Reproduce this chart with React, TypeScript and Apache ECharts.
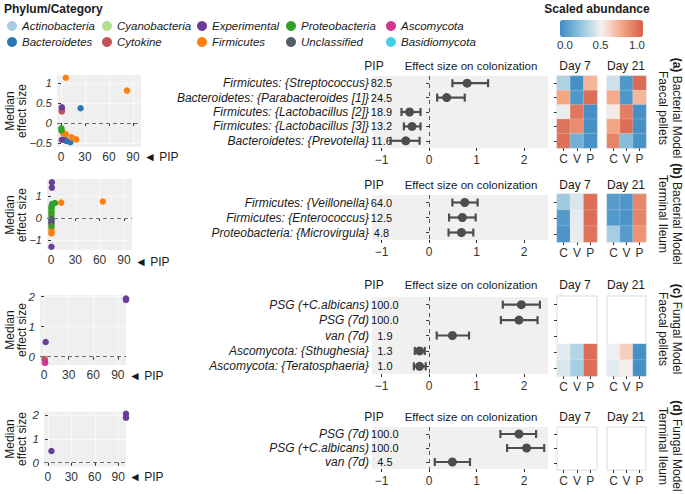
import React, { useEffect, useRef } from 'react';
import * as echarts from 'echarts';

const FONT = '"Liberation Sans", Arial, Helvetica, sans-serif';
const TXT = '#1a1a1a';
const AX = '#333333';

// ---------- legend categories ----------
const categoryNames = ['Actinobacteria', 'Bacteroidetes', 'Cyanobacteria', 'Cytokine', 'Experimental', 'Firmicutes', 'Proteobacteria', 'Unclassified', 'Ascomycota', 'Basidiomycota'];
const categoryColors = ['#a6cee3', '#2a78b3', '#b2df8a', '#c5505a', '#6a3d9a', '#ff7f0e', '#33a02c', '#545b66', '#d1358c', '#40cfe6'];
const legendColumns = [
  ['Actinobacteria', 'Bacteroidetes'],
  ['Cyanobacteria', 'Cytokine'],
  ['Experimental', 'Firmicutes'],
  ['Proteobacteria', 'Unclassified'],
  ['Ascomycota', 'Basidiomycota'],
];

// ---------- left scatter panels: [category, PIP, median effect size] ----------
const scatterBactFaecal: [string, number, number][] = [
  ['Firmicutes', 6, 1.13], ['Firmicutes', 82.5, 0.81], ['Bacteroidetes', 24.5, 0.37],
  ['Experimental', 1, 0.39], ['Cytokine', 1, 0.33], ['Cytokine', 1, 0.29],
  ['Proteobacteria', 0.5, -0.13], ['Proteobacteria', 0.5, -0.18], ['Firmicutes', 1.5, -0.22],
  ['Firmicutes', 3, -0.26], ['Firmicutes', 6, -0.28], ['Firmicutes', 13.2, -0.36],
  ['Firmicutes', 18.9, -0.41], ['Experimental', 1, -0.42], ['Bacteroidetes', 5, -0.41],
  ['Bacteroidetes', 6.5, -0.45], ['Bacteroidetes', 11.6, -0.48],
];
const scatterBactIleum: [string, number, number][] = [
  ['Experimental', 1, 1.62], ['Experimental', 1, 1.38], ['Firmicutes', 64, 0.75],
  ['Firmicutes', 12.5, 0.70], ['Proteobacteria', 4.8, 0.68], ['Proteobacteria', 1.5, 0.64],
  ['Proteobacteria', 1, 0.58], ['Proteobacteria', 0.5, 0.5], ['Proteobacteria', 0.5, 0.42],
  ['Cyanobacteria', 0.5, 0.34], ['Proteobacteria', 0.5, 0.27], ['Firmicutes', 0.5, 0.2],
  ['Proteobacteria', 0.5, 0.12], ['Actinobacteria', 0.5, 0.04], ['Unclassified', 0.5, -0.05],
  ['Bacteroidetes', 0.5, -0.12], ['Experimental', 0.5, -0.2], ['Cytokine', 0.5, -0.28],
  ['Proteobacteria', 0.5, -0.37], ['Firmicutes', 0.5, -0.47], ['Firmicutes', 0.5, -0.6],
  ['Firmicutes', 0.5, -0.7], ['Experimental', 0.5, -1.3],
];
const scatterFungFaecal: [string, number, number][] = [
  ['Experimental', 100, 1.94], ['Experimental', 100, 1.89], ['Experimental', 1.9, 0.49],
  ['Cytokine', 0.5, -0.08], ['Cytokine', 1, -0.12], ['Ascomycota', 1.3, -0.2], ['Ascomycota', 1.0, -0.2],
];
const scatterFungIleum: [string, number, number][] = [
  ['Experimental', 100, 1.89], ['Experimental', 100, 2.05], ['Experimental', 4.5, 0.49],
];
const pipTicks = [0, 30, 60, 90];
const scatterYTicksA = [-0.5, 0, 0.5, 1];
const scatterYTicksB = [-1, 0, 1];
const scatterYTicksC = [0, 1, 2];
const scatterYTicksD = [0, 1, 2];

// ---------- forest + heatmap panels ----------
const effectTicks = [-1, 0, 1, 2];
const heatColumns = ['C', 'V', 'P'];
const abundanceTickLabels = ['0.0', '0.5', '1.0'];

const bfLabels = ['Firmicutes: {Streptococcus}', 'Bacteroidetes: {Parabacteroides [1]}', 'Firmicutes: {Lactobacillus [2]}', 'Firmicutes: {Lactobacillus [3]}', 'Bacteroidetes: {Prevotella}'];
const bfPIP = [82.5, 24.5, 18.9, 13.2, 11.6];
const bfEffect = [0.80, 0.37, -0.41, -0.36, -0.49];
const bfLow = [0.49, 0.17, -0.58, -0.53, -0.81];
const bfHigh = [1.24, 0.75, -0.18, -0.18, -0.20];
const bfDay7 = [[0.32, 0.02, 0.70], [0.75, 0.05, 0.95], [0.47, 0.92, 0.02], [0.93, 0.84, 0.02], [0.94, 0.16, 0.03]];
const bfDay21 = [[0.40, 0.05, 0.96], [0.73, 0.05, 0.70], [0.53, 0.90, 0.02], [0.75, 0.95, 0.02], [0.87, 0.21, 0.03]];

const biLabels = ['Firmicutes: {Veillonella}', 'Firmicutes: {Enterococcus}', 'Proteobacteria: {Microvirgula}'];
const biPIP = [64.0, 12.5, 4.8];
const biEffect = [0.75, 0.70, 0.68];
const biLow = [0.49, 0.42, 0.41];
const biHigh = [1.02, 0.98, 0.93];
const biDay7 = [[0.28, 0.43, 0.95], [0.06, 0.46, 0.95], [0.04, 0.47, 0.93]];
const biDay21 = [[0.07, 0.05, 0.86], [0.06, 0.04, 0.87], [0.30, 0.07, 0.81]];

const ffLabels = ['PSG (+C.albicans)', 'PSG (7d)', 'van (7d)', 'Ascomycota: {Sthughesia}', 'Ascomycota: {Teratosphaeria}'];
const ffPIP = [100.0, 100.0, 1.9, 1.3, 1.0];
const ffEffect = [1.94, 1.89, 0.49, -0.20, -0.20];
const ffLow = [1.55, 1.51, 0.16, -0.30, -0.32];
const ffHigh = [2.33, 2.28, 0.84, -0.09, -0.07];
const ffDay7 = [null, null, null, [0.45, 0.33, 0.95], [0.43, 0.30, 0.95]];
const ffDay21 = [null, null, null, [0.48, 0.62, 0.02], [0.45, 0.52, 0.02]];

const fiLabels = ['PSG (7d)', 'PSG (+C.albicans)', 'van (7d)'];
const fiPIP = [100.0, 100.0, 4.5];
const fiEffect = [1.89, 2.05, 0.49];
const fiLow = [1.50, 1.64, 0.12];
const fiHigh = [2.25, 2.42, 0.86];
const fiDay7 = [null, null, null];
const fiDay21 = [null, null, null];

const panelTitles = [
  ['(a)', 'Bacterial Model', 'Faecal pellets'],
  ['(b)', 'Bacterial Model', 'Terminal Ileum'],
  ['(c)', 'Fungal Model', 'Faecal pellets'],
  ['(d)', 'Fungal Model', 'Terminal Ileum'],
];

// ---------- layout (positions only) ----------
const scatterLayout = [
  { left: 57, top: 75, width: 84, height: 72, yMin: -0.6, yMax: 1.2, titleY: 111, pipY: 157 },
  { left: 47, top: 179, width: 85, height: 71, yMin: -1.45, yMax: 1.77, titleY: 215, pipY: 262 },
  { left: 40, top: 295, width: 86, height: 70, yMin: -0.277, yMax: 2.057, titleY: 330, pipY: 376 },
  { left: 44, top: 411.5, width: 82, height: 55, yMin: -0.16, yMax: 2.147, titleY: 439, pipY: 477 },
];
const forestLayout = [
  { top: 76, height: 72, header: 66, pipX: -1 },
  { top: 195, height: 45, header: 185, pipX: -1 },
  { top: 297, height: 77, header: 285, pipX: -0.93 },
  { top: 427, height: 42, header: 417, pipX: -0.93 },
];
const heatLayout = [
  { top: 76, height: 72 },
  { top: 194, height: 48 },
  { top: 296, height: 80 },
  { top: 427, height: 43 },
];
const titleCenterY = [108, 214, 329, 446];
const FOREST_LEFT = 372;
const FOREST_WIDTH = 176;
const HEAT_LEFT = [557, 607];
const HEAT_WIDTH = [40, 39];

const minus = (v: any) => String(v).replace('-', '\u2212');

function buildOption() {
  const grid: any[] = [];
  const xAxis: any[] = [];
  const yAxis: any[] = [];
  const series: any[] = [];
  const graphic: any[] = [];
  const heatIdx: number[] = [];

  const scatterData = [scatterBactFaecal, scatterBactIleum, scatterFungFaecal, scatterFungIleum];
  const scatterYTicks = [scatterYTicksA, scatterYTicksB, scatterYTicksC, scatterYTicksD];

  // ----- scatter panels -----
  scatterData.forEach((pts, i) => {
    const L = scatterLayout[i];
    const gi = grid.length;
    grid.push({ left: L.left, top: L.top, width: L.width, height: L.height, show: true, backgroundColor: '#efefef', borderWidth: 0 });
    xAxis.push({
      type: 'value', gridIndex: gi, min: -5, max: 100,
      axisLine: { show: false },
      axisTick: { show: true, length: 3, lineStyle: { color: AX }, customValues: pipTicks },
      axisLabel: { customValues: pipTicks, margin: 4, fontSize: 12, color: AX, fontFamily: FONT },
      splitLine: { show: true, lineStyle: { color: '#fbfbfb', width: 0.8 } },
    });
    yAxis.push({
      type: 'value', gridIndex: gi, min: L.yMin, max: L.yMax,
      axisLine: { show: false },
      axisTick: { show: true, length: 3, lineStyle: { color: AX }, customValues: scatterYTicks[i] },
      axisLabel: { customValues: scatterYTicks[i], margin: 5, fontSize: 11.5, fontStyle: 'italic', color: AX, fontFamily: FONT, formatter: minus },
      splitLine: { show: true, lineStyle: { color: '#fbfbfb', width: 0.8 } },
    });
    series.push({
      type: 'line', xAxisIndex: gi, yAxisIndex: gi, data: [], silent: true, z: 1,
      markLine: { silent: true, symbol: ['none', 'none'], label: { show: false }, lineStyle: { type: [4, 3], color: '#6e6e6e', width: 1.2 }, data: [{ yAxis: 0 }] },
    });
    categoryNames.forEach((cat, ci) => {
      series.push({
        type: 'scatter', name: cat, xAxisIndex: gi, yAxisIndex: gi, z: 3,
        data: pts.filter(p => p[0] === cat).map(p => [p[1], p[2]]),
        symbolSize: 6.5, itemStyle: { color: categoryColors[ci], opacity: 1 },
      });
    });
    graphic.push({
      type: 'text', x: 15.5, y: L.titleY, rotation: Math.PI / 2,
      style: { text: 'Median\neffect size', fontSize: 12, lineHeight: 12, fontFamily: FONT, fill: TXT, align: 'center', verticalAlign: 'middle' },
    });
    graphic.push({
      type: 'text', x: L.left + L.width + 3, y: L.pipY,
      style: { text: '\u25C4 PIP', fontSize: 12, fontFamily: FONT, fill: TXT, align: 'left', verticalAlign: 'middle' },
    });
  });

  // ----- forest + heatmaps -----
  const panels = [
    { labels: bfLabels, pip: bfPIP, eff: bfEffect, lo: bfLow, hi: bfHigh, d7: bfDay7, d21: bfDay21 },
    { labels: biLabels, pip: biPIP, eff: biEffect, lo: biLow, hi: biHigh, d7: biDay7, d21: biDay21 },
    { labels: ffLabels, pip: ffPIP, eff: ffEffect, lo: ffLow, hi: ffHigh, d7: ffDay7, d21: ffDay21 },
    { labels: fiLabels, pip: fiPIP, eff: fiEffect, lo: fiLow, hi: fiHigh, d7: fiDay7, d21: fiDay21 },
  ];

  panels.forEach((P, i) => {
    const F = forestLayout[i];
    const gi = grid.length;
    grid.push({ left: FOREST_LEFT, top: F.top, width: FOREST_WIDTH, height: F.height, show: true, backgroundColor: '#f0f0f0', borderWidth: 0 });
    xAxis.push({
      type: 'value', gridIndex: gi, min: -1.2, max: 2.5,
      axisLine: { show: false },
      axisTick: { show: true, length: 3, lineStyle: { color: AX }, customValues: effectTicks },
      axisLabel: { customValues: effectTicks, margin: 6, fontSize: 12, color: AX, fontFamily: FONT, formatter: minus },
      splitLine: { show: false },
    });
    yAxis.push({
      type: 'category', gridIndex: gi, data: P.labels, inverse: true,
      axisLine: { show: false },
      axisTick: { show: true, length: 3, alignWithLabel: true, interval: 0, lineStyle: { color: AX } },
      axisLabel: { interval: 0, margin: 3, fontSize: 12, fontStyle: 'italic', color: TXT, fontFamily: FONT },
      splitLine: { show: false },
    });
    // PIP values printed inside the panel
    series.push({
      type: 'scatter', xAxisIndex: gi, yAxisIndex: gi, silent: true, symbolSize: 0.01,
      itemStyle: { color: '#111111', opacity: 1 },
      data: P.pip.map((v, r) => [F.pipX, r, v]),
      label: { show: true, position: 'inside', fontSize: 11, color: '#111111', opacity: 1, textBorderWidth: 0, fontFamily: FONT, formatter: (p: any) => p.value[2].toFixed(1) },
    });
    // error bars
    series.push({
      type: 'custom', xAxisIndex: gi, yAxisIndex: gi, silent: true, z: 3,
      data: P.lo.map((v, r) => [v, P.hi[r], r]),
      encode: { x: [0, 1], y: 2 },
      renderItem: (params: any, api: any) => {
        const a = api.coord([api.value(0), api.value(2)]);
        const b = api.coord([api.value(1), api.value(2)]);
        const h = 4;
        const style = { stroke: '#4d4d4d', lineWidth: 2.2 };
        return {
          type: 'group', children: [
            { type: 'line', shape: { x1: a[0], y1: a[1], x2: b[0], y2: b[1] }, style },
            { type: 'line', shape: { x1: a[0], y1: a[1] - h, x2: a[0], y2: a[1] + h }, style },
            { type: 'line', shape: { x1: b[0], y1: b[1] - h, x2: b[0], y2: b[1] + h }, style },
          ],
        };
      },
    });
    // median points + zero line
    series.push({
      type: 'scatter', xAxisIndex: gi, yAxisIndex: gi, silent: true, z: 4,
      data: P.eff.map((v, r) => [v, r]),
      symbolSize: 9, itemStyle: { color: '#4d4d4d', opacity: 1 },
      markLine: { silent: true, symbol: ['none', 'none'], label: { show: false }, lineStyle: { type: [4, 4], color: '#555555', width: 1 }, data: [{ xAxis: 0 }] },
    });

    // headers
    graphic.push({ type: 'text', x: 374, y: F.header, style: { text: 'PIP', fontSize: 12, fontFamily: FONT, fill: TXT, align: 'center', verticalAlign: 'middle' } });
    graphic.push({ type: 'text', x: 471, y: F.header, style: { text: 'Effect size on colonization', fontSize: 11.5, fontFamily: FONT, fill: TXT, align: 'center', verticalAlign: 'middle' } });
    graphic.push({ type: 'text', x: 575, y: F.header, style: { text: 'Day 7', fontSize: 12, fontFamily: FONT, fill: TXT, align: 'center', verticalAlign: 'middle' } });
    graphic.push({ type: 'text', x: 626, y: F.header, style: { text: 'Day 21', fontSize: 12, fontFamily: FONT, fill: TXT, align: 'center', verticalAlign: 'middle' } });

    // heatmaps
    const H = heatLayout[i];
    [P.d7, P.d21].forEach((mat, d) => {
      const hg = grid.length;
      grid.push({ left: HEAT_LEFT[d], top: H.top, width: HEAT_WIDTH[d], height: H.height, show: true, backgroundColor: '#ffffff', borderColor: '#dadada', borderWidth: 1 });
      xAxis.push({
        type: 'category', gridIndex: hg, data: heatColumns,
        axisLine: { show: false },
        axisTick: { show: true, length: 3, alignWithLabel: true, interval: 0, lineStyle: { color: AX } },
        axisLabel: { interval: 0, margin: 5, fontSize: 12, color: AX, fontFamily: FONT },
        splitLine: { show: false },
      });
      yAxis.push({
        type: 'category', gridIndex: hg, data: P.labels, inverse: true,
        axisLine: { show: false },
        axisTick: { show: d === 0, length: 3, alignWithLabel: true, interval: 0, lineStyle: { color: AX } },
        axisLabel: { show: false, interval: 0 },
        splitLine: { show: false },
      });
      const cells: number[][] = [];
      mat.forEach((row: number[] | null, r: number) => {
        if (row) row.forEach((v, c) => cells.push([c, r, v]));
      });
      if (cells.length) {
        heatIdx.push(series.length);
        series.push({
          type: 'heatmap', xAxisIndex: hg, yAxisIndex: hg, data: cells, silent: true,
          itemStyle: { borderColor: 'rgba(255,255,255,0.5)', borderWidth: 0.4 },
        });
      }
    });

    // side titles
    const T = panelTitles[i];
    graphic.push({
      type: 'text', x: 677, y: titleCenterY[i], rotation: -Math.PI / 2,
      style: { text: `{b|${T[0]}} ${T[1]}`, fontSize: 12, fontFamily: FONT, fill: TXT, align: 'center', verticalAlign: 'middle', rich: { b: { fontWeight: 'bold', fontSize: 12, fontFamily: FONT, fill: TXT } } },
    });
    graphic.push({
      type: 'text', x: 663, y: titleCenterY[i], rotation: -Math.PI / 2,
      style: { text: T[2], fontSize: 12, fontFamily: FONT, fill: TXT, align: 'center', verticalAlign: 'middle' },
    });
  });

  // legend title and colorbar texts
  graphic.push({ type: 'text', x: 4, y: 9, style: { text: 'Phylum/Category', fontSize: 12, fontWeight: 'bold', fontFamily: FONT, fill: TXT, verticalAlign: 'middle' } });
  graphic.push({ type: 'text', x: 597, y: 9, style: { text: 'Scaled abundance', fontSize: 12, fontWeight: 'bold', fontFamily: FONT, fill: TXT, align: 'center', verticalAlign: 'middle' } });
  const cbX = [565, 600.5, 637];
  abundanceTickLabels.forEach((t, k) => {
    graphic.push({ type: 'text', x: cbX[k], y: 45, style: { text: t, fontSize: 11.5, fontFamily: FONT, fill: AX, align: 'center', verticalAlign: 'middle' } });
  });

  const legendLeft = [7, 102, 197, 286, 386];
  const legend = legendColumns.map((col, k) => ({
    orient: 'vertical', left: legendLeft[k], top: 20, padding: 0, itemGap: 4,
    itemWidth: 10, itemHeight: 10, icon: 'circle', selectedMode: false,
    data: col,
    textStyle: { fontStyle: 'italic', fontSize: 11.5, color: TXT, fontFamily: FONT },
  }));

  return {
    animation: false,
    backgroundColor: '#ffffff',
    textStyle: { fontFamily: FONT },
    grid, xAxis, yAxis, series, legend, graphic,
    visualMap: {
      type: 'continuous', min: 0, max: 1, seriesIndex: heatIdx, orient: 'horizontal',
      left: 560, top: 20, itemWidth: 17, itemHeight: 83, calculable: false, hoverLink: false,
      padding: 0, showLabel: false,
      inRange: { color: ['#3f8bc4', '#92c5de', '#f5f3f2', '#f4a582', '#d6604d'] },
    },
  };
}

export default function App() {
  const ref = useRef<HTMLDivElement>(null);
  useEffect(() => {
    const chart = echarts.init(ref.current!, null, { renderer: 'svg' });
    chart.setOption(buildOption() as any);
    return () => chart.dispose();
  }, []);
  return <div ref={ref} style={{ position: 'absolute', left: 0, top: 0, width: 685, height: 494, background: '#fff' }} />;
}
